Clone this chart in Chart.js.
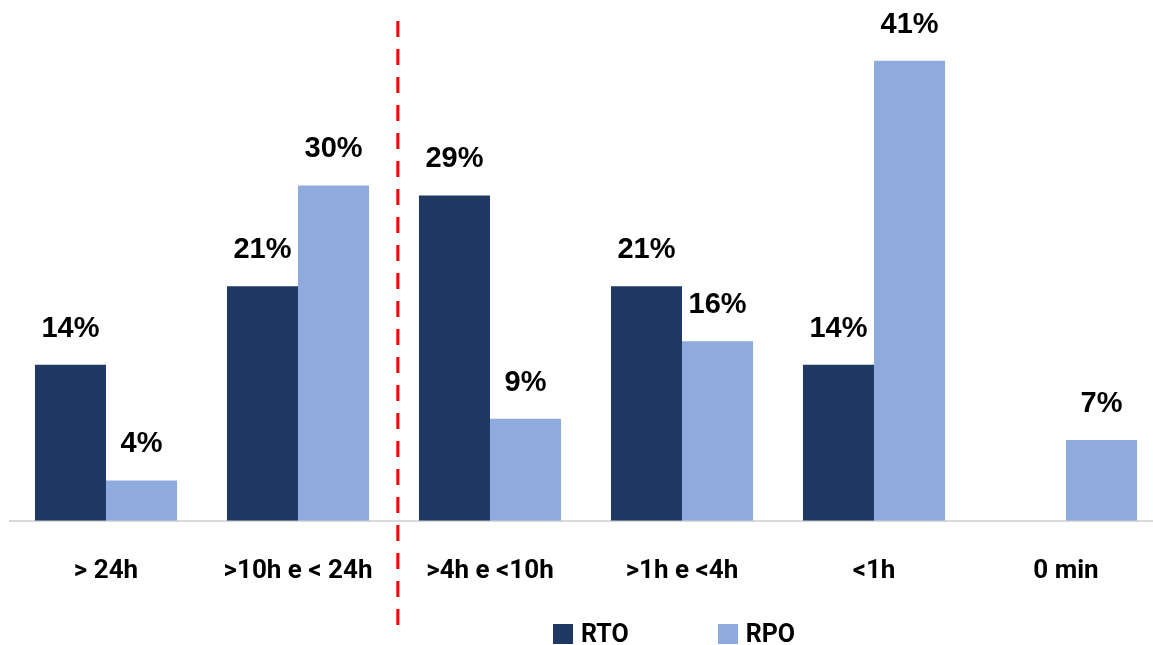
<!DOCTYPE html>
<html>
<head>
<meta charset="utf-8">
<script src="https://cdn.jsdelivr.net/npm/chart.js@4/dist/chart.umd.min.js"></script>
<style>
  html, body { margin: 0; padding: 0; background: #ffffff; overflow: hidden; width: 1153px; height: 645px; }
  #wrap { position: relative; width: 1162px; height: 645px; }
  #legend { position: absolute; left: 553px; top: 619px; display: flex; align-items: center;
            font-family: Roboto, "Liberation Sans", sans-serif; font-weight: bold; font-size: 25px; color: #000; }
  .item { display: flex; align-items: center; }
  .sw { width: 20px; height: 20px; margin-right: 8px; }
</style>
</head>
<body>
<div id="wrap">
  <canvas id="c" width="1162" height="645"></canvas>
  <div id="legend"></div>
</div>
<script>
const categories = ["> 24h", ">10h e < 24h", ">4h e <10h", ">1h e <4h", "<1h", "0 min"];
const seriesNames = ["RTO", "RPO"];
const rtoValues = [13.9, 20.9, 29.0, 20.9, 13.9, null];
const rpoValues = [3.6, 29.9, 9.1, 16.0, 41.0, 7.2];
const seriesColors = ["#203864", "#8FAADC"];

const labelPlugin = {
  id: 'valueLabels',
  afterDatasetsDraw(chart) {
    const ctx = chart.ctx;
    ctx.save();
    ctx.font = 'bold 29px "Liberation Sans", Arial, sans-serif';
    ctx.fillStyle = '#000000';
    ctx.textAlign = 'center';
    ctx.textBaseline = 'alphabetic';
    chart.data.datasets.forEach((ds, i) => {
      const meta = chart.getDatasetMeta(i);
      meta.data.forEach((bar, j) => {
        const v = ds.data[j];
        if (v === null || v === undefined) return;
        ctx.fillText(Math.round(v) + '%', bar.x, bar.y - 28);
      });
    });
    ctx.restore();
  }
};

const dividerPlugin = {
  id: 'divider',
  afterDraw(chart) {
    const xs = chart.scales.x;
    const x = xs.getPixelForValue(1.52);
    const ctx = chart.ctx;
    ctx.save();
    ctx.strokeStyle = '#FF0000';
    ctx.lineWidth = 3;
    ctx.setLineDash([16, 12]);
    ctx.beginPath();
    ctx.moveTo(x, 21);
    ctx.lineTo(x, 625);
    ctx.stroke();
    ctx.restore();
  }
};

new Chart(document.getElementById('c'), {
  type: 'bar',
  data: {
    labels: categories,
    datasets: [
      { label: seriesNames[0], data: rtoValues, backgroundColor: seriesColors[0], borderWidth: 0 },
      { label: seriesNames[1], data: rpoValues, backgroundColor: seriesColors[1], borderWidth: 0 }
    ]
  },
  options: {
    responsive: false,
    animation: false,
    events: [],
    layout: { padding: { left: 10, right: 0, top: 16, bottom: 23 } },
    datasets: { bar: { categoryPercentage: 0.74, barPercentage: 1.0 } },
    plugins: { legend: { display: false }, tooltip: { enabled: false } },
    scales: {
      x: {
        grid: { display: false, drawTicks: false },
        border: { display: true, color: '#D9D9D9', width: 2 },
        ticks: { color: '#000', padding: 35, maxRotation: 0, autoSkip: false,
                 font: { family: 'Roboto, "Liberation Sans", sans-serif', weight: 'bold', size: 26 } }
      },
      y: { display: false, min: 0, max: 45 }
    }
  },
  plugins: [labelPlugin, dividerPlugin]
});

const legend = document.getElementById('legend');
seriesNames.forEach((n, i) => {
  const it = document.createElement('div');
  it.className = 'item';
  if (i > 0) it.style.marginLeft = '89px';
  const sw = document.createElement('div');
  sw.className = 'sw';
  sw.style.background = seriesColors[i];
  const t = document.createElement('span');
  t.textContent = n;
  it.appendChild(sw); it.appendChild(t);
  legend.appendChild(it);
});
</script>
</body>
</html>
